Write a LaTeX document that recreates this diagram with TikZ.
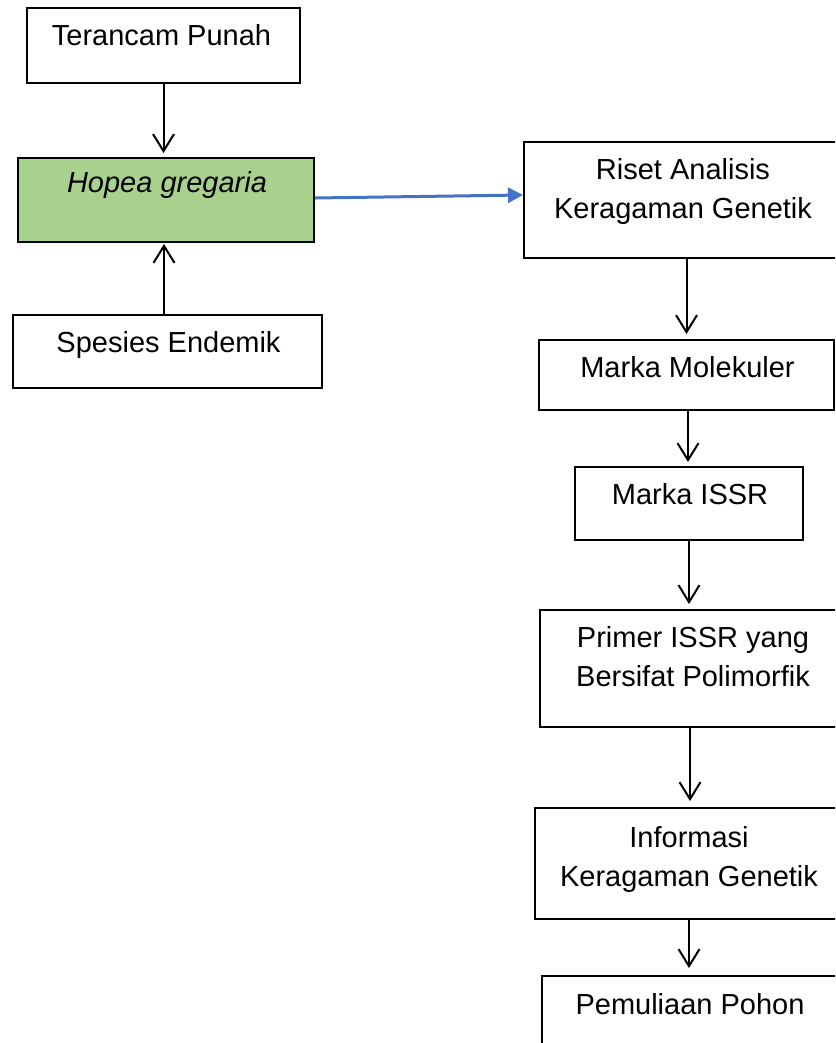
\documentclass[tikz,border=0pt]{standalone}
\usepackage{fontspec}
\setmainfont{Liberation Sans}
\usetikzlibrary{arrows.meta,calc}
\definecolor{boxgreen}{HTML}{A9D18E}
\definecolor{arrowblue}{HTML}{4472C4}
\begin{document}
\begin{tikzpicture}[x=1pt,y=-1pt,
  box/.style={draw=black,line width=2pt,rectangle,inner sep=0pt,fill=white},
  lbl/.style={anchor=base,align=center,inner sep=0pt,font=\fontsize{29}{39}\selectfont},
  arr/.style={draw=black,line width=2pt,-{Straight Barb[length=17pt,width=21pt]}},
  barr/.style={draw=arrowblue,line width=3pt,-{Triangle[length=15pt,width=15pt]}}]
\useasboundingbox (0,0) rectangle (835,1043);
\clip (0,0) rectangle (835,1043);
% boxes
\node[box,minimum width=273pt,minimum height=75pt] (ter) at (163.5,45.5) {};
\node[box,fill=boxgreen,minimum width=296pt,minimum height=84pt] (hop) at (166,200) {};
\node[box,minimum width=309pt,minimum height=73pt] (spe) at (167.5,351.5) {};
\node[box,minimum width=318pt,minimum height=116pt] (ris) at (683,200) {};
\node[box,minimum width=295pt,minimum height=70pt] (mm) at (686.5,375) {};
\node[box,minimum width=228pt,minimum height=73pt] (issr) at (689,503.5) {};
\node[box,minimum width=306pt,minimum height=117pt] (pri) at (693,668.5) {};
\node[box,minimum width=308pt,minimum height=111pt] (inf) at (689,863.5) {};
\node[box,minimum width=296pt,minimum height=84pt] (pem) at (690,1018) {};
% labels (base anchor = baseline of last line)
\node[lbl] (terT) at ($(ter.north)+(-2,39)$) {Terancam Punah};
\node[lbl] (hopT) at ($(hop.north)+(1,36)$) {\itshape Hopea gregaria};
\node[lbl] (speT) at ($(spe.north)+(1,38)$) {Spesies Endemik};
\node[lbl] (risT) at ($(ris.north)+(0,77)$) {Riset Analisis\\Keragaman Genetik};
\node[lbl] (mmT) at ($(mm.north)+(1,38)$) {Marka Molekuler};
\node[lbl] (issrT) at ($(issr.north)+(1,38)$) {Marka ISSR};
\node[lbl] (priT) at ($(pri.north)+(0,77)$) {Primer ISSR yang\\Bersifat Polimorfik};
\node[lbl] (infT) at ($(inf.north)+(0,79)$) {Informasi\\Keragaman Genetik};
\node[lbl] (pemT) at ($(pem.north)+(0,39)$) {Pemuliaan Pohon};
% connector end points
\coordinate (c1) at ($(spe.north)+(-3.5,0)$);
\coordinate (c2) at (c1 |- hop.south);
\coordinate (c3) at ($(hop.east)+(0,-2)$);
\coordinate (c4) at ($(ris.west)+(0,-5)$);
\coordinate (c5) at ($(mm.south)+(1.5,0)$);
\coordinate (c6) at (c5 |- issr.north);
\coordinate (c7) at ($(pri.south)+(-3,0)$);
\coordinate (c8) at (c7 |- inf.north);
% connectors
\draw[arr,shorten >=4pt] (ter.south) -- (ter.south |- hop.north);
\draw[arr,shorten >=1pt] (c1) -- (c2);
\draw[barr] (c3) -- (c4);
\draw[arr,shorten >=5pt] (ris.south -| mm.north) -- (mm.north);
\draw[arr,shorten >=4pt] (c5) -- (c6);
\draw[arr,shorten >=5pt] (issr.south) -- (issr.south |- pri.north);
\draw[arr,shorten >=6pt] (c7) -- (c8);
\draw[arr,shorten >=7pt] (inf.south) -- (inf.south |- pem.north);
\end{tikzpicture}
\end{document}
